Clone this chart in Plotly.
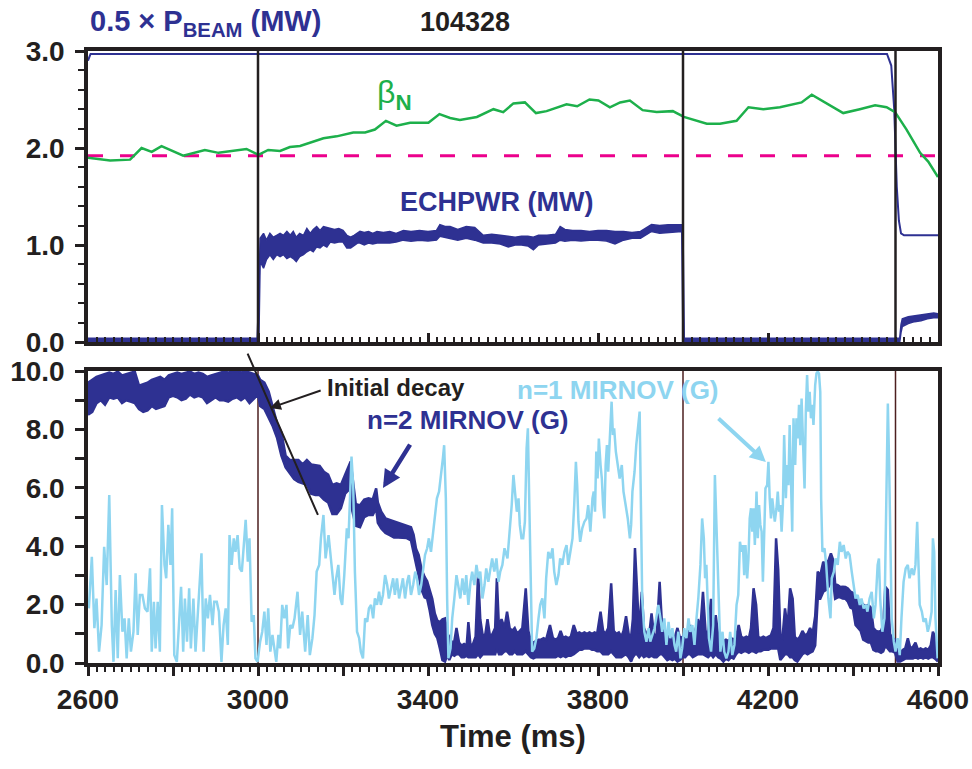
import plotly.graph_objects as go

FONT = "Liberation Sans, Arial, Helvetica, sans-serif"
DARK_BLUE = "#2E3192"
GREEN = "#1DB04B"
LIGHT_BLUE = "#8ED5F0"
MAGENTA = "#EC008C"
BLACK = "#231F20"
VLINE_LOW = "#4D1F1F"

# ---------------- top panel data ----------------
t_bn = [2600, 2652, 2699, 2726, 2750, 2773, 2824, 2875, 2907, 2973, 3001, 3024, 3052, 3075, 3099,
        3154, 3185, 3224, 3252, 3275, 3301, 3326, 3358, 3401, 3427, 3452, 3475, 3515, 3554, 3577,
        3601, 3628, 3654, 3679, 3726, 3751, 3780, 3801, 3828, 3852, 3875, 3905, 3938, 3976, 4002,
        4056, 4087, 4126, 4154, 4189, 4228, 4256, 4279, 4303, 4334, 4377, 4416, 4452, 4479, 4499,
        4526, 4558, 4577, 4600]
beta_n = [1.90, 1.87, 1.88, 2.00, 1.96, 2.02, 1.92, 1.98, 1.95, 1.99, 1.93, 1.98, 1.97, 2.01, 2.02,
          2.10, 2.12, 2.16, 2.16, 2.19, 2.28, 2.23, 2.26, 2.26, 2.35, 2.31, 2.29, 2.32, 2.40, 2.37,
          2.46, 2.47, 2.36, 2.38, 2.45, 2.43, 2.50, 2.49, 2.42, 2.47, 2.49, 2.39, 2.37, 2.38, 2.32,
          2.25, 2.25, 2.28, 2.42, 2.40, 2.42, 2.45, 2.47, 2.55, 2.47, 2.36, 2.40, 2.44, 2.42, 2.37,
          2.19, 1.95, 1.86, 1.70]

t_bn_ref = [2600, 4600]
bn_ref = [1.92, 1.92]

t_beam = [2600, 2606, 2620, 4480, 4490, 4497, 4503, 4508, 4513, 4520, 4600]
p_beam_half = [2.90, 2.97, 2.97, 2.97, 2.85, 2.40, 1.60, 1.25, 1.12, 1.10, 1.10]

t_ech = [2600, 2700, 2800, 2900, 2998, 3002, 3005, 3013, 3020, 3028, 3036, 3044, 3052, 3060, 3068,
         3076, 3083, 3090, 3098, 3107, 3115, 3123, 3130, 3138, 3146, 3154, 3162, 3170, 3180, 3190,
         3200, 3209, 3218, 3226, 3234, 3240, 3250, 3260, 3270, 3280, 3295, 3310, 3325, 3342, 3360,
         3380, 3400, 3420, 3428, 3440, 3452, 3470, 3490, 3510, 3530, 3550, 3570, 3589, 3605, 3620,
         3635, 3648, 3660, 3680, 3700, 3711, 3722, 3740, 3760, 3780, 3800, 3820, 3840, 3860, 3880,
         3900, 3926, 3945, 3965, 3985, 3997, 4000, 4003, 4100, 4200, 4300, 4400, 4500, 4510, 4513,
         4516, 4530, 4545, 4560, 4575, 4590, 4600]
ech_hi = [0.04, 0.04, 0.04, 0.04, 0.04, 0.50, 1.07, 1.12, 1.05, 1.12, 1.08, 1.10, 1.12, 1.10, 1.14,
          1.10, 1.14, 1.08, 1.12, 1.10, 1.17, 1.12, 1.16, 1.19, 1.15, 1.19, 1.18, 1.17, 1.16, 1.17,
          1.15, 1.10, 1.08, 1.10, 1.12, 1.14, 1.13, 1.14, 1.12, 1.14, 1.13, 1.14, 1.12, 1.15, 1.14,
          1.15, 1.14, 1.15, 1.21, 1.19, 1.19, 1.16, 1.19, 1.18, 1.10, 1.11, 1.10, 1.09, 1.08, 1.09,
          1.09, 1.08, 1.10, 1.10, 1.11, 1.19, 1.16, 1.15, 1.15, 1.14, 1.15, 1.15, 1.14, 1.14, 1.13,
          1.14, 1.21, 1.20, 1.21, 1.21, 1.21, 1.20, 0.04, 0.04, 0.04, 0.04, 0.04, 0.04, 0.04, 0.18,
          0.24, 0.26, 0.27, 0.28, 0.29, 0.30, 0.29]
ech_lo = [0.00, 0.00, 0.00, 0.00, 0.00, 0.00, 0.83, 0.76, 0.85, 0.90, 0.85, 0.90, 0.88, 0.90, 0.86,
          0.88, 0.86, 0.83, 0.88, 0.90, 0.93, 0.95, 0.93, 0.98, 0.97, 1.00, 0.98, 1.03, 1.02, 1.03,
          1.03, 0.97, 0.97, 1.00, 1.02, 1.02, 1.00, 1.02, 1.01, 1.02, 1.02, 1.02, 1.03, 1.05, 1.04,
          1.05, 1.04, 1.05, 1.09, 1.08, 1.07, 1.05, 1.07, 1.05, 1.02, 1.02, 1.01, 0.98, 1.00, 1.00,
          0.99, 0.95, 1.00, 1.01, 1.02, 1.05, 1.04, 1.05, 1.04, 1.05, 1.05, 1.04, 1.01, 1.05, 1.07,
          1.07, 1.14, 1.12, 1.13, 1.14, 1.14, 0.00, 0.00, 0.00, 0.00, 0.00, 0.00, 0.00, 0.00, 0.10,
          0.16, 0.19, 0.21, 0.22, 0.24, 0.25, 0.25]

# ---------------- bottom panel data ----------------
t_n1 = [2602, 2609, 2615, 2620, 2626, 2632, 2638, 2644, 2650, 2656, 2660, 2665, 2670, 2675, 2681,
        2686, 2691, 2696, 2701, 2707, 2712, 2717, 2722, 2728, 2734, 2740, 2746, 2750, 2755, 2759,
        2764, 2769, 2774, 2780, 2784, 2789, 2794, 2798, 2803, 2809, 2814, 2819, 2824, 2828, 2833,
        2838, 2842, 2848, 2853, 2858, 2863, 2867, 2872, 2877, 2882, 2887, 2893, 2897, 2903, 2908,
        2914, 2919, 2924, 2929, 2933, 2938, 2943, 2947, 2952, 2957, 2962, 2966, 2971, 2976, 2980,
        2985, 2990, 2994, 2999, 3005, 3010, 3015, 3020, 3024, 3029, 3034, 3038, 3043, 3048, 3052,
        3057, 3062, 3067, 3071, 3076, 3081, 3086,
        3093, 3099, 3104, 3111, 3117, 3122, 3128, 3133, 3138, 3144, 3148, 3154, 3159, 3166, 3170,
        3175, 3180, 3184, 3189, 3194, 3198, 3203, 3209, 3213, 3217, 3220, 3224, 3228, 3233, 3238,
        3242, 3247, 3252, 3257, 3261, 3266, 3271, 3275, 3280, 3285, 3289, 3294, 3299, 3304, 3308,
        3313, 3318, 3322, 3327, 3332, 3337, 3341, 3346, 3351, 3355, 3360, 3365, 3370, 3374, 3379,
        3384, 3388, 3393, 3398, 3402, 3407, 3412, 3417, 3421, 3426, 3431, 3435, 3438, 3442, 3445,
        3448, 3453, 3457, 3462, 3467, 3471, 3476, 3481, 3486, 3490, 3495, 3500, 3504, 3509, 3514,
        3519, 3523, 3528, 3533, 3537, 3542, 3547, 3551, 3556, 3561, 3566, 3570, 3575, 3580,
        3587, 3593, 3597, 3601, 3605, 3609, 3613, 3616, 3620, 3624, 3628, 3632, 3635, 3638, 3641,
        3645, 3650, 3655, 3660, 3664, 3669, 3674, 3678, 3683, 3688, 3693, 3697, 3702, 3707, 3711,
        3716, 3721, 3726, 3730, 3735, 3740, 3744, 3748, 3751, 3754, 3758, 3763, 3768, 3773, 3777,
        3782, 3787, 3790, 3793, 3796, 3799, 3802, 3806, 3809, 3812, 3815, 3818, 3821, 3824, 3829,
        3832, 3835, 3838, 3842, 3846, 3851, 3856, 3860, 3865, 3870, 3875, 3878, 3881, 3886, 3890,
        3895, 3898, 3901, 3904, 3909, 3914, 3919, 3923, 3928, 3933, 3937, 3942, 3947, 3951, 3956,
        3961, 3966, 3970, 3975, 3980, 3984, 3989, 3994, 3998, 4003, 4008, 4013, 4017, 4022, 4027,
        4031, 4036, 4041, 4045, 4049, 4052, 4055, 4058, 4061, 4066, 4071,
        4075, 4079, 4083, 4088, 4093, 4097, 4102, 4107, 4111, 4116, 4121, 4126, 4130, 4134, 4138,
        4141, 4144, 4147, 4151, 4154, 4157, 4160, 4163, 4166, 4169, 4173, 4176, 4179, 4182, 4185,
        4188, 4191, 4194, 4198, 4201, 4204, 4207, 4210, 4213, 4216, 4220, 4223, 4226, 4229, 4232,
        4235, 4238, 4242, 4245, 4248, 4251, 4254, 4257, 4260, 4264, 4267, 4270, 4273, 4276, 4279,
        4282, 4286, 4289, 4292, 4295, 4298, 4301, 4304, 4307, 4311, 4314, 4317, 4320, 4323, 4325,
        4328, 4333, 4337, 4342, 4347, 4350, 4355, 4359, 4364, 4369, 4373, 4378, 4383, 4387, 4392,
        4397, 4402, 4406, 4411, 4416, 4420, 4425, 4430, 4434, 4439, 4444, 4449, 4453, 4458, 4461,
        4464, 4469, 4474, 4477, 4480, 4482, 4485, 4488, 4491, 4496, 4500, 4505, 4510, 4514, 4519,
        4524, 4529, 4533, 4538, 4543, 4547, 4551, 4554, 4557, 4562, 4566, 4571, 4576, 4580, 4585,
        4588, 4591, 4594, 4599]
n1_mirnov = [1.87, 3.64, 1.19, 2.21, 0.39, 1.30, 3.98, 2.67, 5.75, 1.30, 0.04, 2.50, 0.16, 3.01, 1.07,
             1.53, 0.16, 1.53, 0.39, 1.07, 3.07, 0.96, 2.33, 2.33, 1.87, 1.76, 3.24, 0.39, 2.10, 0.50,
             2.10, 0.39, 5.41, 3.36, 2.90, 4.73, 3.36, 5.30, 0.27, 0.04, 1.30, 2.61, 0.39, 2.21, 0.73,
             2.56, 0.50, 2.21, 0.39, 1.76, 3.13, 3.76, 0.39, 2.21, 1.53, 2.33, 1.30, 2.10, 2.10, 1.76,
             0.04, 1.30, 1.87, 0.62, 4.38, 3.36, 4.27, 3.81, 4.38, 3.24, 3.13, 3.81, 4.90, 3.47, 4.27,
             1.41, 1.64, 0.16, 0.04, 0.73, 1.07, 1.76, 0.62, 1.87, 0.39, 0.96, 0.50, 0.04, 0.96, 0.50,
             1.99, 1.53, 1.99, 0.50, 1.30, 1.19, 1.53,
             2.44, 0.96, 1.76, 0.39, 1.64, 0.27, 0.85, 1.64, 3.13, 3.36, 4.27, 5.07, 3.58, 4.38, 3.81,
             3.13, 2.33, 2.90, 3.36, 2.21, 1.99, 3.01, 4.61, 4.27, 5.87, 7.07, 6.09, 3.13, 1.07, 0.85,
             0.39, 0.16, 1.53, 1.41, 1.87, 1.99, 1.53, 2.21, 1.99, 2.44, 1.99, 2.33, 3.01, 2.67, 2.21,
             2.56, 2.90, 2.33, 2.90, 2.21, 2.67, 2.90, 2.21, 2.78, 3.01, 2.33, 2.67, 3.13, 2.90, 2.33,
             2.67, 3.24, 3.70, 3.93, 4.27, 3.81, 4.50, 5.07, 5.64, 5.87, 6.44, 7.01, 7.46, 5.64, 2.21,
             0.16, 0.50, 1.53, 2.21, 3.01, 2.67, 2.21, 2.90, 2.33, 3.01, 1.99, 2.78, 3.13, 2.67, 3.36,
             2.90, 3.13, 2.21, 2.67, 3.24, 2.78, 3.24, 3.58, 3.13, 3.58, 2.78, 3.13, 3.36, 3.93,
             3.58, 4.61, 5.41, 6.44, 5.64, 5.18, 5.64, 4.73, 4.27, 4.27, 4.84, 7.35, 8.04, 5.64, 2.21,
             0.39, 0.50, 0.85, 1.53, 1.99, 2.21, 1.53, 2.90, 3.81, 3.58, 3.93, 3.13, 2.67, 3.01, 3.58,
             3.36, 3.81, 4.04, 3.36, 3.81, 4.27, 5.41, 6.89, 6.09, 4.84, 4.15, 4.61, 4.84, 4.95, 5.41,
             4.50, 5.64, 5.87, 5.18, 7.24, 6.32, 7.69, 6.78, 6.32, 5.41, 4.95, 6.78, 7.46, 6.55, 7.92,
             8.95, 7.81, 8.04, 7.24, 6.78, 6.32, 6.78, 5.87, 5.41, 4.95, 4.27, 4.73, 5.87, 6.55, 7.46,
             8.15, 8.61, 5.41, 2.21, 1.07, 0.73, 1.19, 0.73, 0.96, 1.19, 1.53, 1.99, 1.53, 1.07, 1.53,
             0.62, 1.41, 0.85, 1.19, 0.62, 0.39, 1.07, 0.16, 0.50, 1.19, 0.85, 1.53, 1.07, 1.30, 0.62,
             1.41, 2.21, 3.36, 4.95, 4.27, 2.90, 3.36, 2.21, 0.85, 0.39, 1.30,
             6.44, 4.50, 2.21, 0.39, 1.07, 0.39, 0.16, 0.39, 1.07, 0.27, 0.62, 1.99, 2.33, 4.15, 3.81,
             4.04, 3.01, 4.04, 2.90, 3.58, 4.95, 5.30, 4.50, 5.30, 4.04, 5.87, 4.27, 5.41, 4.73, 4.50,
             2.78, 4.95, 5.98, 6.09, 6.89, 5.64, 4.95, 5.64, 5.18, 4.84, 5.30, 5.87, 5.18, 5.41, 4.50,
             5.41, 7.81, 5.64, 6.78, 6.09, 8.15, 5.87, 4.50, 8.38, 6.78, 8.38, 7.69, 8.84, 7.46, 9.06,
             7.92, 5.98, 8.61, 9.86, 8.61, 9.29, 8.38, 8.84, 8.15, 9.52, 9.92, 9.98, 9.92, 9.29, 5.64,
             3.81, 3.93, 3.36, 2.21, 1.53, 2.90, 3.13, 3.58, 3.36, 4.15, 3.81, 4.04, 3.58, 3.81, 3.70,
             3.13, 2.67, 2.21, 2.33, 1.99, 2.21, 1.87, 1.99, 1.76, 2.21, 2.44, 1.53, 1.99, 3.36, 3.58,
             2.21, 1.07, 1.53, 3.81, 6.78, 8.89, 6.78, 3.36, 1.53, 0.73, 0.39, 0.85, 0.27, 1.53, 2.78,
             3.24, 3.36, 2.90, 3.24, 3.01, 3.36, 4.84, 2.90, 1.99, 1.76, 1.41, 1.53, 1.07, 1.30, 1.76,
             4.27, 3.81, 1.53, 0.16]

t_n2 = [2600, 2610, 2620, 2630, 2640, 2650, 2660, 2670, 2680, 2690, 2700, 2710, 2720, 2730, 2740,
        2750, 2760, 2770, 2780, 2790, 2800, 2810, 2820, 2830, 2840, 2850, 2860, 2870, 2880, 2890,
        2900, 2910, 2920, 2930, 2940, 2950, 2960, 2970, 2980, 2990, 3000,
        3005, 3015, 3025, 3035, 3045, 3055, 3065, 3075, 3085, 3095, 3105, 3115, 3125, 3135, 3145,
        3155, 3165, 3175, 3185, 3195, 3205, 3212, 3218, 3222, 3230, 3240, 3250, 3260, 3270, 3278,
        3282, 3290, 3300, 3310, 3320, 3330, 3340, 3350, 3360, 3366, 3372, 3378, 3385, 3392, 3398,
        3404, 3410, 3416, 3422, 3428, 3434, 3440, 3446,
        3450, 3456, 3462, 3467, 3473, 3479, 3485, 3491, 3495, 3500, 3506, 3512, 3518, 3523, 3529,
        3535, 3540, 3546, 3552, 3558, 3562, 3567, 3573, 3580, 3586, 3592, 3598, 3604, 3610, 3616,
        3622, 3630, 3636, 3642, 3648, 3654, 3660, 3666, 3672, 3678, 3687, 3694, 3700, 3706, 3712,
        3718, 3724, 3730, 3736, 3743, 3750, 3756, 3762, 3768, 3774, 3780, 3786, 3792, 3798, 3806,
        3812, 3818, 3824, 3831, 3837, 3843, 3849, 3855, 3860, 3866, 3872, 3878, 3882, 3887, 3892,
        3897, 3903, 3908, 3914, 3920, 3926, 3932, 3938, 3945, 3951, 3957, 3963, 3969, 3975, 3981,
        3987, 3993, 3999, 4005, 4011, 4017, 4023, 4029, 4035, 4041, 4047, 4053, 4059, 4066, 4071,
        4077, 4083, 4089, 4095, 4101, 4107, 4113, 4119, 4125, 4131, 4137, 4143, 4149, 4155, 4160,
        4166, 4172, 4177, 4183, 4189, 4195, 4201, 4207, 4213, 4219, 4224, 4229, 4234, 4240, 4246,
        4252, 4258, 4263, 4269, 4275, 4281, 4287, 4293, 4299, 4305, 4311, 4317, 4323, 4330, 4336,
        4342, 4348, 4354, 4358, 4364, 4370, 4376, 4382, 4388, 4394, 4400, 4406, 4412, 4418, 4424,
        4430, 4436, 4442, 4448, 4454, 4460, 4466, 4471, 4476, 4482, 4487, 4493, 4499, 4505, 4511,
        4517, 4523, 4529, 4535, 4541, 4547, 4553, 4559, 4565, 4571, 4577, 4583, 4588, 4593, 4598,
        4600]
n2_hi = [9.60, 9.70, 9.80, 9.85, 9.90, 9.95, 9.90, 9.98, 9.85, 9.90, 9.95, 9.98, 9.50, 9.55, 9.60,
         9.70, 9.75, 9.80, 9.70, 9.85, 9.90, 9.95, 9.90, 9.95, 9.98, 9.90, 9.95, 9.90, 9.80, 9.85,
         9.90, 9.95, 9.98, 9.95, 9.98, 10.0, 9.95, 9.98, 9.95, 9.90, 9.85,
         9.70, 9.60, 9.30, 8.70, 8.20, 7.90, 7.10, 6.95, 6.95, 6.95, 6.80, 6.95, 6.80, 6.78, 6.75,
         6.55, 6.45, 6.10, 6.15, 6.10, 6.44, 6.70, 6.90, 6.40, 5.45, 5.40, 5.60, 5.64, 5.60, 5.98,
         5.50, 5.18, 4.95, 4.90, 4.85, 4.80, 4.75, 4.70, 4.65, 4.40, 3.90, 3.70, 3.20, 2.95, 2.80,
         2.50, 2.20, 1.70, 1.45, 1.40, 1.50, 1.53, 1.00,
         0.90, 0.70, 0.75, 1.20, 0.70, 0.60, 0.65, 0.60, 1.40, 0.60, 0.65, 0.90, 3.10, 1.50, 0.90,
         1.00, 1.50, 0.90, 1.00, 1.20, 2.90, 1.20, 1.50, 1.20, 1.76, 1.20, 1.10, 1.20, 1.00, 1.10,
         1.20, 2.56, 1.10, 0.75, 0.70, 0.75, 0.80, 0.80, 0.85, 0.80, 1.30, 0.85, 0.80, 0.85, 1.10,
         0.85, 0.90, 0.85, 0.90, 1.30, 1.00, 1.05, 1.00, 1.05, 1.00, 1.05, 1.00, 1.05, 1.00, 1.76,
         1.10, 1.00, 1.20, 2.73, 1.10, 1.00, 1.05, 0.90, 1.10, 1.60, 1.00, 0.90, 1.50, 3.94, 2.40,
         1.00, 2.44, 1.20, 1.00, 0.90, 1.70, 0.90, 1.00, 2.78, 1.20, 0.90, 0.95, 0.90, 0.85, 0.90,
         1.20, 0.85, 0.90, 1.00, 0.90, 1.30, 1.00, 1.10, 1.50, 1.20, 2.44, 1.10, 1.00, 2.20, 1.00,
         1.64, 0.90, 0.80, 0.75, 0.80, 0.75, 0.85, 0.80, 0.90, 1.30, 0.90, 0.85, 0.90, 0.85, 1.20,
         2.56, 2.00, 0.90, 0.85, 0.90, 0.85, 0.90, 0.95, 1.20, 4.27, 3.20, 0.90, 0.85, 1.87, 1.20,
         2.56, 2.20, 0.90, 0.80, 0.90, 1.10, 0.95, 1.00, 1.20, 1.00, 1.60, 3.13, 3.00, 3.47, 3.30,
         3.50, 3.75, 3.50, 2.70, 2.67, 2.60, 2.61, 2.60, 2.55, 2.45, 2.40, 2.20, 2.15, 2.10, 2.00,
         1.95, 1.99, 1.90, 1.20, 1.10, 1.07, 1.10, 1.30, 2.61, 2.50, 1.00, 0.85, 0.80, 0.40, 0.35,
         0.45, 0.50, 0.85, 0.50, 0.55, 0.70, 0.45, 0.50, 0.45, 0.50, 0.45, 0.60, 1.07, 0.90, 0.30,
         0.20]
n2_lo = [8.50, 8.60, 8.90, 9.00, 8.85, 9.10, 9.05, 9.10, 8.90, 9.00, 8.95, 8.90, 8.70, 8.60, 8.65,
         8.80, 8.70, 8.75, 8.80, 9.10, 9.15, 9.10, 9.00, 9.05, 9.20, 9.10, 9.15, 9.10, 8.90, 9.00,
         9.10, 9.00, 9.00, 8.95, 9.05, 9.10, 9.00, 9.10, 8.90, 9.05, 9.20,
         8.80, 8.70, 8.40, 8.10, 7.70, 7.10, 6.70, 6.50, 6.30, 6.20, 6.15, 6.10, 5.80, 5.75, 5.75,
         5.60, 5.50, 5.10, 5.10, 5.30, 5.80, 5.90, 6.00, 5.20, 4.70, 4.65, 5.00, 5.07, 5.07, 5.30,
         4.80, 4.61, 4.45, 4.38, 4.30, 4.30, 4.30, 4.28, 4.20, 3.80, 3.30, 3.00, 2.50, 2.25, 2.20,
         1.80, 1.30, 1.00, 0.85, 0.50, 0.10, 0.05, 0.30,
         0.10, 0.30, 0.25, 0.30, 0.30, 0.20, 0.20, 0.25, 0.20, 0.20, 0.20, 0.20, 0.30, 0.20, 0.30,
         0.30, 0.30, 0.30, 0.30, 0.30, 0.50, 0.30, 0.30, 0.40, 0.40, 0.30, 0.30, 0.40, 0.30, 0.30,
         0.30, 0.40, 0.30, 0.20, 0.16, 0.20, 0.20, 0.20, 0.20, 0.20, 0.20, 0.20, 0.20, 0.25, 0.20,
         0.25, 0.20, 0.25, 0.25, 0.30, 0.40, 0.45, 0.45, 0.50, 0.50, 0.50, 0.45, 0.45, 0.40, 0.40,
         0.30, 0.30, 0.30, 0.40, 0.30, 0.20, 0.20, 0.20, 0.25, 0.30, 0.20, 0.05, 0.20, 0.30, 0.30,
         0.20, 0.30, 0.20, 0.25, 0.20, 0.25, 0.20, 0.20, 0.30, 0.30, 0.20, 0.10, 0.15, 0.10, 0.15,
         0.05, 0.10, 0.20, 0.20, 0.30, 0.30, 0.20, 0.25, 0.30, 0.30, 0.30, 0.25, 0.20, 0.30, 0.20,
         0.30, 0.20, 0.15, 0.05, 0.15, 0.10, 0.20, 0.15, 0.30, 0.40, 0.35, 0.40, 0.40, 0.35, 0.40,
         0.40, 0.35, 0.40, 0.40, 0.45, 0.45, 0.45, 0.50, 0.50, 0.50, 0.50, 0.10, 0.20, 0.30, 0.30,
         0.20, 0.20, 0.10, 0.05, 0.20, 0.30, 0.35, 0.30, 0.35, 0.40, 0.60, 2.20, 2.20, 2.44, 2.50,
         2.60, 2.78, 2.70, 2.20, 2.25, 2.25, 2.21, 2.20, 2.10, 1.90, 1.85, 1.30, 1.20, 1.10, 0.80,
         0.75, 0.70, 0.70, 0.45, 0.40, 0.40, 0.35, 0.40, 0.60, 0.50, 0.40, 0.40, 0.35, 0.05, 0.05,
         0.10, 0.15, 0.15, 0.15, 0.15, 0.20, 0.15, 0.20, 0.15, 0.20, 0.15, 0.20, 0.20, 0.15, 0.05,
         0.05]

event_times = [3000, 4000, 4500]

x_major = [2600, 2800, 3000, 3200, 3400, 3600, 3800, 4000, 4200, 4400, 4600]
x_labels = ["2600", "", "3000", "", "3400", "", "3800", "", "4200", "", "4600"]
top_y_ticks = [0, 1, 2, 3]
top_y_labels = ["0.0", "1.0", "2.0", "3.0"]
low_y_ticks = [0, 2, 4, 6, 8, 10]
low_y_labels = ["0.0", "2.0", "4.0", "6.0", "8.0", "10.0"]

assert len(t_bn) == len(beta_n), (len(t_bn), len(beta_n))
assert len(t_beam) == len(p_beam_half)
assert len(t_ech) == len(ech_hi) == len(ech_lo), (len(t_ech), len(ech_hi), len(ech_lo))
assert len(t_n1) == len(n1_mirnov), (len(t_n1), len(n1_mirnov))
assert len(t_n2) == len(n2_hi) == len(n2_lo), (len(t_n2), len(n2_hi), len(n2_lo))

fig = go.Figure()

# ---- top panel ----
fig.add_trace(go.Scatter(x=t_bn_ref, y=bn_ref, mode="lines", xaxis="x", yaxis="y",
                         line=dict(color=MAGENTA, width=3, dash="15px,17px")))
fig.add_trace(go.Scatter(x=t_ech, y=ech_lo, mode="lines", xaxis="x", yaxis="y",
                         line=dict(color=DARK_BLUE, width=1.5)))
fig.add_trace(go.Scatter(x=t_ech, y=ech_hi, mode="lines", xaxis="x", yaxis="y", fill="tonexty",
                         fillcolor=DARK_BLUE, line=dict(color=DARK_BLUE, width=1.5)))
fig.add_trace(go.Scatter(x=t_beam, y=p_beam_half, mode="lines", xaxis="x", yaxis="y",
                         line=dict(color=DARK_BLUE, width=2)))
fig.add_trace(go.Scatter(x=t_bn, y=beta_n, mode="lines", xaxis="x", yaxis="y",
                         line=dict(color=GREEN, width=2.5)))

# ---- bottom panel ----
fig.add_trace(go.Scatter(x=t_n2, y=n2_lo, mode="lines", xaxis="x2", yaxis="y2",
                         line=dict(color=DARK_BLUE, width=2.5)))
fig.add_trace(go.Scatter(x=t_n2, y=n2_hi, mode="lines", xaxis="x2", yaxis="y2", fill="tonexty",
                         fillcolor=DARK_BLUE, line=dict(color=DARK_BLUE, width=2.5)))
fig.add_trace(go.Scatter(x=t_n1, y=n1_mirnov, mode="lines", xaxis="x2", yaxis="y2",
                         line=dict(color=LIGHT_BLUE, width=2.5)))

shapes = []
for t in event_times:
    shapes.append(dict(type="line", xref="x", yref="y domain", x0=t, x1=t, y0=0, y1=1,
                       line=dict(color=BLACK, width=2.5), layer="above"))
    shapes.append(dict(type="line", xref="x2", yref="y2 domain", x0=t, x1=t, y0=0, y1=1,
                       line=dict(color=VLINE_LOW, width=1.5), layer="below"))

tickfont = dict(family=FONT, size=28, color=BLACK, weight="bold")
frame = dict(showline=True, mirror=True, linewidth=3.5, linecolor=BLACK,
             showgrid=False, zeroline=False, automargin=False)

fig.update_layout(
    width=972, height=769,
    margin=dict(l=88, r=34, t=51, b=106),
    paper_bgcolor="white", plot_bgcolor="white",
    showlegend=False,
    font=dict(family=FONT, color=BLACK),
    shapes=shapes,
    xaxis=dict(domain=[0, 1], anchor="y", range=[2600, 4600], tickmode="array",
               tickvals=x_major, ticktext=x_labels, showticklabels=False,
               ticks="inside", ticklen=9, tickwidth=2.5, tickcolor=BLACK,
               minor=dict(tick0=2600, dtick=20, ticks="inside", ticklen=5, tickwidth=1.5,
                          tickcolor=BLACK), **frame),
    yaxis=dict(domain=[0.5245, 1], anchor="x", range=[0, 3], tickmode="array",
               tickvals=top_y_ticks, ticktext=top_y_labels, tickfont=tickfont,
               ticks="outside", ticklen=9, tickwidth=2.5, tickcolor=BLACK,
               ticklabelstandoff=5,
               minor=dict(tick0=0, dtick=0.2, ticks="outside", ticklen=6, tickwidth=2,
                          tickcolor=BLACK), **frame),
    xaxis2=dict(domain=[0, 1], anchor="y2", range=[2600, 4600], tickmode="array",
                tickvals=x_major, ticktext=x_labels, tickfont=tickfont,
                ticks="outside", ticklen=9, tickwidth=2.5, tickcolor=BLACK,
                minor=dict(tick0=2600, dtick=20, ticks="outside", ticklen=5, tickwidth=1.5,
                           tickcolor=BLACK),
                title=dict(text="Time (ms)", font=dict(family=FONT, size=31, color=BLACK,
                                                       weight="bold"), standoff=12),
                **frame),
    yaxis2=dict(domain=[0, 0.4771], anchor="x2", range=[0, 10], tickmode="array",
                tickvals=low_y_ticks, ticktext=low_y_labels, tickfont=tickfont,
                ticks="outside", ticklen=9, tickwidth=2.5, tickcolor=BLACK,
                ticklabelstandoff=5,
                minor=dict(tick0=0, dtick=1, ticks="outside", ticklen=9, tickwidth=2.5,
                           tickcolor=BLACK), **frame),
)

ann_font = dict(family=FONT, weight="bold")
annotations = [
    dict(text="0.5 × P<sub>BEAM</sub> (MW)", xref="paper", yref="paper", x=0.0, y=1.045,
         xanchor="left", yanchor="middle", showarrow=False,
         font=dict(size=29, color=DARK_BLUE, **ann_font)),
    dict(text="104328", xref="paper", yref="paper", x=0.4435, y=1.047,
         xanchor="center", yanchor="middle", showarrow=False,
         font=dict(size=27, color=BLACK, **ann_font)),
    dict(text="β<sub><b>N</b></sub>", xref="x", yref="y", x=3322, y=2.55,
         xanchor="center", yanchor="middle", showarrow=False,
         font=dict(family=FONT, size=32, color=GREEN, weight="normal")),
    dict(text="ECHPWR (MW)", xref="x", yref="y", x=3329, y=1.446,
         xanchor="left", yanchor="middle", showarrow=False,
         font=dict(size=27, color=DARK_BLUE, **ann_font)),
    # decay fit line
    dict(text="", xref="x2", yref="y2", axref="x2", ayref="y2", x=3141, y=5.07,
         ax=2974, ay=10.65, showarrow=True, arrowhead=0, arrowwidth=2, arrowcolor=BLACK,
         standoff=0, startstandoff=0),
    # Initial decay label and arrow
    dict(text="", xref="x2", yref="y2", axref="x2", ayref="y2", x=3028, y=8.73,
         ax=3151, ay=9.35, showarrow=True, arrowhead=2, arrowsize=1.1, arrowwidth=2,
         arrowcolor=BLACK, standoff=0, startstandoff=0),
    dict(text="Initial decay", xref="x2", yref="y2", x=3158, y=9.42,
         xanchor="left", yanchor="middle", showarrow=False,
         font=dict(size=24, color=BLACK, **ann_font)),
    # n=2 label and arrow
    dict(text="n=2 MIRNOV (G)", xref="x2", yref="y2", x=3252, y=8.32,
         xanchor="left", yanchor="middle", showarrow=False,
         font=dict(size=26, color=DARK_BLUE, **ann_font)),
    dict(text="", xref="x2", yref="y2", axref="x2", ayref="y2", x=3294, y=5.99,
         ax=3360, ay=7.53, showarrow=True, arrowhead=2, arrowsize=0.8, arrowwidth=4.5,
         arrowcolor=DARK_BLUE, standoff=0, startstandoff=0),
    # n=1 label and arrow
    dict(text="n=1 MIRNOV (G)", xref="x2", yref="y2", x=3605, y=9.35,
         xanchor="left", yanchor="middle", showarrow=False,
         font=dict(size=26, color=LIGHT_BLUE, **ann_font)),
    dict(text="", xref="x2", yref="y2", axref="x2", ayref="y2", x=4195, y=6.88,
         ax=4080, ay=8.42, showarrow=True, arrowhead=2, arrowsize=0.8, arrowwidth=4,
         arrowcolor=LIGHT_BLUE, standoff=0, startstandoff=0),
]
fig.update_layout(annotations=annotations)

# Remove the default 8 px page margin so the 972x769 figure fills the window exactly,
# and hide the interactive mode bar.
fig.write_html("out.html",
               config={"displayModeBar": False},
               post_script="document.body.style.margin='0';document.body.style.overflow='hidden';")
